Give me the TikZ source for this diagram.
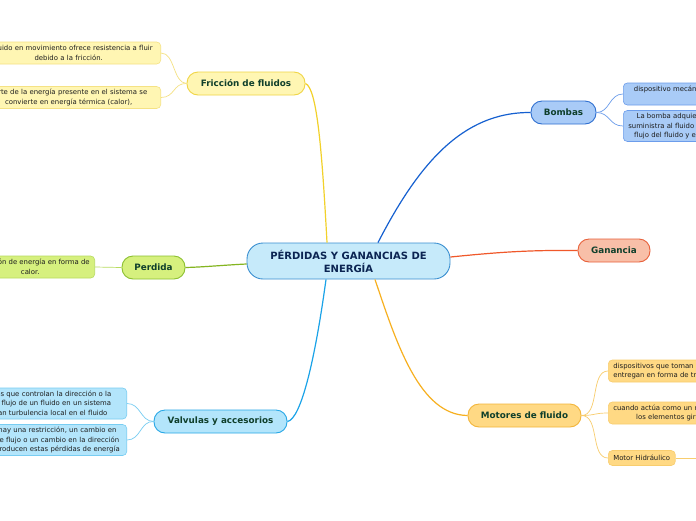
\documentclass[tikz,border=0pt]{standalone}
\usepackage{fontspec}
\setmainfont{DejaVu Sans}
\definecolor{ctext}{HTML}{0B2452}
\definecolor{btext}{HTML}{0F3F2B}
\definecolor{ltext}{HTML}{1E1E1E}
\definecolor{cfill}{HTML}{C6EAFA}\definecolor{cbord}{HTML}{3A8FD0}
\definecolor{ffill}{HTML}{FFF6B3}\definecolor{fbord}{HTML}{F0D545}\definecolor{fline}{HTML}{F2D12A}\definecolor{flf}{HTML}{F5E284}
\definecolor{bfill}{HTML}{A9CBF7}\definecolor{bbord}{HTML}{2F6FD0}\definecolor{bline}{HTML}{1560D0}\definecolor{blf}{HTML}{6C9DEB}
\definecolor{gfill}{HTML}{F8BFA8}\definecolor{gbord}{HTML}{E8603A}\definecolor{gline}{HTML}{F0582A}
\definecolor{pfill}{HTML}{D6F07E}\definecolor{pbord}{HTML}{8CC030}\definecolor{pline}{HTML}{84B520}\definecolor{plf}{HTML}{B8DC60}
\definecolor{vfill}{HTML}{B3E5FB}\definecolor{vbord}{HTML}{27A7E6}\definecolor{vline}{HTML}{1AA3E8}\definecolor{vlf}{HTML}{78CDF2}
\definecolor{mfill}{HTML}{FFD984}\definecolor{mbord}{HTML}{F2B53A}\definecolor{mline}{HTML}{F7B020}\definecolor{mlf}{HTML}{F8CD6E}
\tikzset{
  central/.style={draw=cbord, fill=cfill, rounded corners=16pt, line width=0.9pt,
    minimum width=203pt, minimum height=36pt, inner sep=0pt,
    font=\fontsize{10}{13}\selectfont\bfseries, text=ctext, align=center},
  branch/.style={rounded corners=11pt, line width=0.9pt, minimum height=23pt, inner sep=0pt,
    font=\fontsize{8.8}{10}\selectfont\bfseries, text=btext},
  leaf/.style={rounded corners=4pt, line width=0.6pt, inner xsep=5pt, inner ysep=0pt,
    font=\fontsize{6.9}{9.5}\selectfont, text=ltext},
  mainline/.style={line width=1.2pt},
  subline/.style={line width=0.7pt},
}
\begin{document}
\begin{tikzpicture}[x=1pt,y=-1pt]
\useasboundingbox (0,0) rectangle (696,520);
\clip (0,0) rectangle (696,520);
\fill[white] (0,0) rectangle (696,520);

% central and branches
\node[central] (c) at (348.5,261) {PÉRDIDAS Y GANANCIAS DE\\ENERGÍA};
\node[branch, draw=fbord, fill=ffill, minimum width=118pt] (fr) at (246,83.5) {Fricción de fluidos};
\node[branch, draw=bbord, fill=bfill, minimum width=65pt] (bo) at (563.5,112.5) {Bombas};
\node[branch, draw=gbord, fill=gfill, minimum width=72pt] (ga) at (614,250.5) {Ganancia};
\node[branch, draw=pbord, fill=pfill, minimum width=63pt] (pe) at (153.5,267.5) {Perdida};
\node[branch, draw=vbord, fill=vfill, minimum width=133pt] (va) at (220.5,421.5) {Valvulas y accesorios};
\node[branch, draw=mbord, fill=mfill, minimum width=113pt] (mo) at (524.5,415.5) {Motores de fluido};

% leaves
\node[leaf, draw=flf, fill=ffill, anchor=east, minimum height=22pt, text width=174pt, align=center] (f1) at (161,53)
  {El fluido en movimiento ofrece resistencia a fluir\\debido a la fricción.};
\node[leaf, draw=flf, fill=ffill, anchor=east, minimum height=22pt, text width=174pt, align=center] (f2) at (161,97.5)
  {Parte de la energía presente en el sistema se\\convierte en energía térmica (calor),};
\node[leaf, draw=plf, fill=pfill, anchor=east, minimum height=22pt, align=center] (p1) at (95,267)
  {Disipación de energía en forma de\\calor.};
\node[leaf, draw=vlf, fill=vfill, anchor=east, minimum height=31pt, text width=159pt, align=left] (v1) at (127,403.5)
  {Dispositivos que controlan la dirección o la\\rapidez de flujo de un fluido en un sistema\\que generan turbulencia local en el fluido};
\node[leaf, draw=vlf, fill=vfill, anchor=east, minimum height=31pt, text width=152pt, align=left] (v2) at (127,440)
  {Cuando hay una restricción, un cambio en\\la tasa de flujo o un cambio en la dirección\\que se producen estas pérdidas de energía};
\node[leaf, draw=blf, fill=bfill, anchor=west, minimum height=22pt, text width=193pt, align=center] (b1) at (623,94)
  {dispositivo mecánico que agrega energía a un fluido\\y lo impulsa.};
\node[leaf, draw=blf, fill=bfill, anchor=west, minimum height=31pt, align=center] (b2) at (623,126)
  {La bomba adquiere energía mecánica y la\\suministra al fluido para aumentar la presión y\\flujo del fluido y es accionada por un motor};
\node[leaf, draw=mlf, fill=mfill, anchor=west, minimum height=22pt, align=center] (m1) at (608,371)
  {dispositivos que toman energía de un fluido y la\\entregan en forma de trabajo mecánico rotativo};
\node[leaf, draw=mlf, fill=mfill, anchor=west, minimum height=22pt, align=center] (m2) at (608,413)
  {cuando actúa como un motor, el fluido mueve a\\los elementos giratorios del motor.};
\node[leaf, draw=mlf, fill=mfill, anchor=west, minimum height=15pt] (m3) at (608,458) {Motor Hidráulico};
\coordinate (m3x) at (710,458);

% main connectors
\draw[mainline, fline] (fr.east) .. controls (317,88) and (322,150) .. (c.north -| 327,0);
\draw[mainline, bline] (c.north -| 378,0) .. controls (418,165) and (462,112) .. (bo.west);
\draw[mainline, gline] (c.east |- 0,257) .. controls (500,252) and (530,250) .. (ga.west);
\draw[mainline, pline] (c.west |- 0,264) .. controls (225,265) and (205,267) .. (pe.east);
\draw[mainline, vline] (va.east) .. controls (301,419) and (315,360) .. (c.south -| 326,0);
\draw[mainline, mline] (c.south -| 375,0) .. controls (397,345) and (420,415) .. (mo.west);

% leaf connectors
\draw[subline, flf] (fr.west) .. controls (173,83) and (175,53) .. (f1.east);
\draw[subline, flf] (fr.west) .. controls (173,83) and (175,97.5) .. (f2.east);
\draw[subline, plf] (pe.west) -- (p1.east);
\draw[subline, vlf] (va.west) .. controls (140,421) and (141,403.5) .. (v1.east);
\draw[subline, vlf] (va.west) .. controls (140,421) and (141,440) .. (v2.east);
\draw[subline, blf] (bo.east) .. controls (610,112.5) and (609,94) .. (b1.west);
\draw[subline, blf] (bo.east) .. controls (610,112.5) and (609,126) .. (b2.west);
\draw[subline, mlf] (mo.east) .. controls (600,415.5) and (590,371) .. (m1.west);
\draw[subline, mlf] (mo.east) .. controls (595,415.5) and (594,413) .. (m2.west);
\draw[subline, mlf] (mo.east) .. controls (600,415.5) and (590,458) .. (m3.west);
\draw[subline, mlf] (m3.east) -- (m3x);
\end{tikzpicture}
\end{document}
